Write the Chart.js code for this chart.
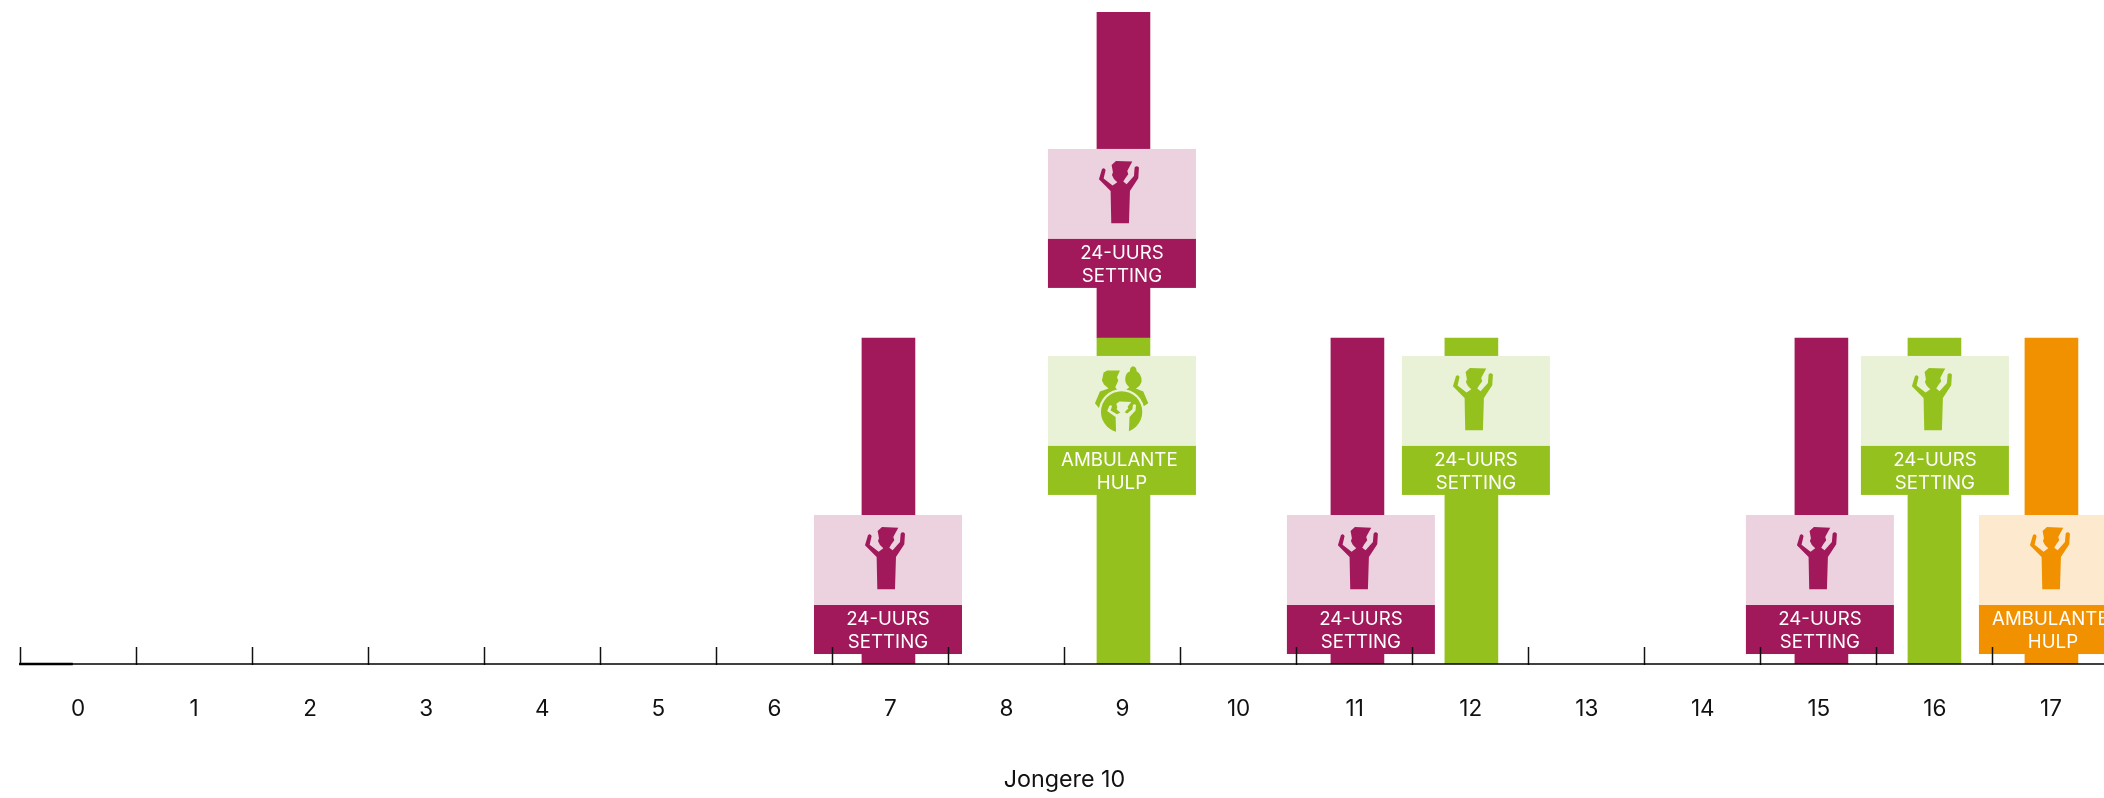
<!DOCTYPE html>
<html>
<head>
<meta charset="utf-8">
<script src="https://cdn.jsdelivr.net/npm/chart.js@4"></script>
<style>
    html, body { margin: 0; padding: 0; background: #fff; overflow: hidden; }
    #wrap { width: 2104px; height: 798px; overflow: hidden; }
</style>
</head>
<body>
<div id="wrap"><canvas id="chart" width="2120" height="798"></canvas></div>
<script>
const categories = ["0", "1", "2", "3", "4", "5", "6", "7", "8", "9", "10", "11", "12", "13", "14", "15", "16", "17"];

// bar positions, they sit slightly off the category centres
const greenX = [9.008, 12.006, 15.996];
const greenY = [1, 1, 1];
const maroonX = [6.983, 9.008, 11.024, 15.022];
const maroonY = [1, 1, 1, 1];
const orangeX = [17.004];
const orangeY = [1];
const stubX = [-0.276];
const stubY = [[-0.003, 0.003]];

// label cards on top of the bars
const tagX = [6.979, 8.995, 8.995, 11.054, 12.045, 15.009, 16.0, 17.017];
const tagTop = [0.457, 1.58, 0.945, 0.457, 0.945, 0.457, 0.945, 0.457];
const tagColor = ["maroon", "maroon", "green", "maroon", "green", "maroon", "green", "orange"];
const tagIcon = ["child", "child", "family", "child", "child", "child", "child", "child"];
const tagText = [
    ["24-UURS", "SETTING"], ["24-UURS", "SETTING"], ["AMBULANTE ", "HULP"], ["24-UURS", "SETTING"],
    ["24-UURS", "SETTING"], ["24-UURS", "SETTING"], ["24-UURS", "SETTING"], ["AMBULANTE ", "HULP"]
];

const colors = {
    maroon: { dark: "#A1195B", light: "#ECD1DE" },
    green: { dark: "#95C11F", light: "#E9F2D6" },
    orange: { dark: "#F29100", light: "#FCE9CE" }
};

// silhouettes traced at 3x, origin is handled in drawIcon
const childPath = new Path2D("M214,247 L212,150 L177,115 L186,85 Q192,78 197,87 L191,113 L218,134 L232,124 L222,114 L216,102 L219,94 L215,72 L228,60 L277,62 L265,84 L262,90 L265,100 L256,112 L250,122 L260,130 L282,105 L284,80 Q290,72 297,80 L295,112 L270,150 L267,247 Z");
const leftParent = new Path2D("M186,92 L191,68 L202,62 L240,62 L231,82 L235,92 L226,112 L232,120 L205,145 L180,178 L165,160 L180,125 L206,116 L192,104 Z");
const rightParent = new Path2D("M279,49 Q290,50 290,64 Q306,74 305,94 Q302,108 288,116 L310,125 L325,160 L310,170 L285,145 L258,120 L268,112 Q254,100 256,84 Q258,68 270,64 Q269,52 279,49 Z");

function toPoints(xs, ys) {
    return xs.map((x, i) => ({ x: x, y: ys[i] }));
}

function drawIcon(ctx, name, cx, top, dark, light) {
    ctx.save();
    ctx.translate(cx, top);
    ctx.scale(1 / 3, 1 / 3);
    ctx.translate(-246, -24);
    ctx.fillStyle = dark;
    if (name === "child") {
        ctx.fill(childPath);
    } else {
        ctx.translate(0, 6);
        ctx.fill(leftParent);
        ctx.fill(rightParent);
        ctx.fillStyle = light;
        ctx.beginPath();
        ctx.arc(245, 186, 69, 0, Math.PI * 2);
        ctx.fill();
        ctx.fillStyle = dark;
        ctx.beginPath();
        ctx.arc(245, 186, 62, 0, Math.PI * 2);
        ctx.fill();
        // child cut out of the disc
        ctx.translate(245, 155);
        ctx.scale(0.72, 0.51);
        ctx.translate(-237, -60);
        ctx.fillStyle = light;
        ctx.fill(childPath);
    }
    ctx.restore();
}

const tagPlugin = {
    id: "tags",
    afterDatasetsDraw(chart) {
        const ctx = chart.ctx;
        const xScale = chart.scales.xb;
        const yScale = chart.scales.y;
        tagX.forEach((value, i) => {
            const c = colors[tagColor[i]];
            const cx = xScale.getPixelForValue(value);
            const top = yScale.getPixelForValue(tagTop[i]);
            const left = cx - 74;
            ctx.save();
            ctx.fillStyle = c.light;
            ctx.fillRect(left, top, 148, 91);
            ctx.fillStyle = c.dark;
            ctx.fillRect(left, top + 90, 148, 49);
            drawIcon(ctx, tagIcon[i], cx, top, c.dark, c.light);
            ctx.fillStyle = "#fff";
            ctx.font = "18.67px Inter";
            ctx.textAlign = "center";
            ctx.textBaseline = "middle";
            ctx.fillText(tagText[i][0], cx, top + 104);
            ctx.fillText(tagText[i][1], cx, top + 127);
            ctx.restore();
        });
    }
};

new Chart(document.getElementById("chart"), {
    type: "bar",
    data: {
        datasets: [
            { data: toPoints(stubX, stubY), backgroundColor: "#000", stack: "stub", xAxisID: "xb", clip: false },
            { data: toPoints(greenX, greenY), backgroundColor: colors.green.dark, stack: "a", xAxisID: "xb" },
            { data: toPoints(maroonX, maroonY), backgroundColor: colors.maroon.dark, stack: "a", xAxisID: "xb" },
            { data: toPoints(orangeX, orangeY), backgroundColor: colors.orange.dark, stack: "a", xAxisID: "xb" }
        ]
    },
    options: {
        responsive: false,
        animation: false,
        events: [],
        layout: { padding: { left: 20, right: 11, top: 12, bottom: 0 } },
        datasets: { bar: { barThickness: 53, grouped: false } },
        plugins: { legend: { display: false }, tooltip: { enabled: false }, title: { display: false } },
        scales: {
            xb: { type: "linear", display: false, min: -0.5, max: 17.5, stacked: false, offset: false, grid: { offset: false } },
            x: {
                type: "category",
                labels: categories,
                position: "bottom",
                afterFit: scale => { scale.height = 134; },
                offset: true,
                grid: {
                    offset: true,
                    drawOnChartArea: false,
                    drawTicks: true,
                    tickLength: -17,
                    tickWidth: 1.5,
                    tickColor: "#111",
                    z: 1
                },
                border: { color: "rgba(0,0,0,0.75)", width: 2, z: 1 },
                ticks: {
                    autoSkip: false,
                    maxRotation: 0,
                    padding: 49,
                    color: "#111",
                    font: { family: "Inter", size: 22.5 },
                    z: 1
                },
                title: {
                    display: true,
                    text: "Jongere 10",
                    color: "#111",
                    font: { family: "Inter", size: 23.3 },
                    padding: { top: 0, bottom: 4 }
                }
            },
            y: { display: false, stacked: true, min: 0, max: 2 }
        }
    },
    plugins: [tagPlugin]
});
</script>
</body>
</html>
